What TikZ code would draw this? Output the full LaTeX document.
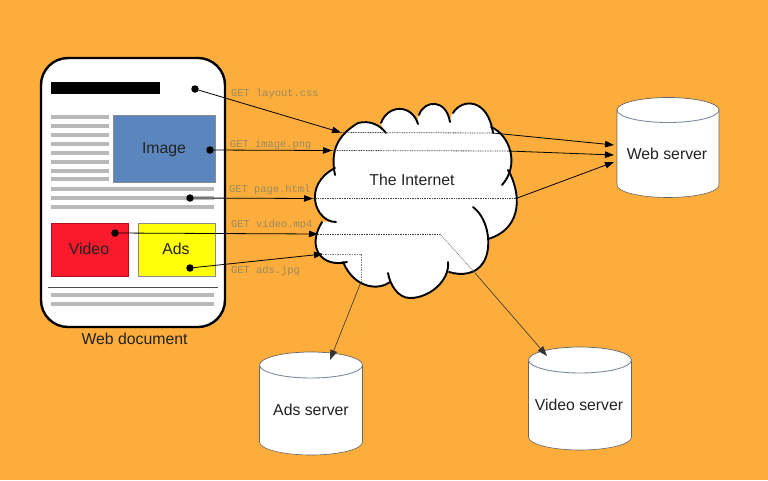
\documentclass[tikz,border=0pt]{standalone}
\usepackage{fontspec}
\setmainfont{Liberation Sans}
\newfontfamily\getfont{Liberation Mono}
\usetikzlibrary{arrows.meta}
\definecolor{bgorange}{HTML}{FCAD3B}
\definecolor{greybar}{HTML}{B9B9B9}
\definecolor{imgblue}{HTML}{5B86BD}
\definecolor{vidred}{HTML}{F91A2C}
\definecolor{adyellow}{HTML}{FFFF0A}
\definecolor{getgrey}{HTML}{9A8A5E}
\definecolor{cylrim}{HTML}{7F8A9E}
\definecolor{txt}{HTML}{222222}
\newcommand\alllobes[1]{
  #1 (335,175) .. controls (330,150) and (338,135) .. (358,123) .. controls (370,120) and (380,125) .. (386,133);
  #1 (381,123) .. controls (388,104) and (412,104) .. (418,124);
  #1 (419,115) .. controls (424,100) and (446,98) .. (450,122);
  #1 (453,113) .. controls (462,98) and (488,98) .. (493,133);
  #1 (491,127) .. controls (510,135) and (520,165) .. (502,185);
  #1 (508,170) .. controls (520,190) and (525,228) .. (488,239);
  #1 (473,207) .. controls (490,220) and (492,250) .. (483,263) .. controls (476,274) and (462,276) .. (449,272);
  #1 (448,262) .. controls (450,280) and (430,298) .. (410,298) .. controls (398,298) and (390,285) .. (388,273);
  #1 (390,282) .. controls (380,290) and (355,290) .. (343,262);
  #1 (347,262) .. controls (322,268) and (306,248) .. (322,222);
  #1 (336,222) .. controls (315,222) and (302,185) .. (335,168);
}
\tikzset{
  lbl/.style={font=\fontsize{15.8}{18}\selectfont,text=txt,inner sep=0pt},
  getlbl/.style={font=\getfont\fontsize{10.4}{12}\selectfont,text=getgrey,anchor=west,inner sep=0pt},
  dot/.style={circle,fill=black,inner sep=0pt,minimum size=7.5pt},
  greyln/.style={fill=greybar,draw=none},
  conn/.style={-{Triangle[length=9pt,width=6.5pt]},line width=.8pt,black},
  thinconn/.style={-{Triangle[length=10pt,width=7pt]},line width=.6pt,black!80},
  inside/.style={dash pattern=on .9pt off .8pt,line width=.8pt,black!75},
  insidegrey/.style={dash pattern=on .9pt off .8pt,line width=.8pt,black!50},
  cloudln/.style={line width=1.9pt,black,line cap=round},
  cloudfill/.style={fill=white,draw=white,line width=1pt},
  block/.style={draw=black!45,line width=.5pt},
  pics/dbcyl/.style n args={3}{code={
    \fill[white] (-#1,0) arc[start angle=180,end angle=360,x radius=#1,y radius=#2]
       -- (#1,#3) arc[start angle=0,end angle=180,x radius=#1,y radius=#2] -- cycle;
    \draw[line width=.6pt,black!60] (-#1,0) -- (-#1,#3) arc[start angle=180,end angle=0,x radius=#1,y radius=#2] -- (#1,0);
    \draw[line width=.7pt,black!60] (-#1,0) arc[start angle=180,end angle=360,x radius=#1,y radius=#2];
    \draw[line width=.9pt,cylrim] (-#1,0) arc[start angle=180,end angle=0,x radius=#1,y radius=#2];
  }}
}
\begin{document}
\begin{tikzpicture}[x=1pt,y=-1pt]
\fill[bgorange] (0,0) rectangle (768,480);
\useasboundingbox (0,0) rectangle (768,480);

% web document
\draw[fill=white,line width=2.4pt,rounded corners=27pt] (41,58) rectangle (225,327);
\fill[black] (51,82) rectangle (160,94);
\foreach \yy in {117,126,135,144,153,162,171,179}
  \fill[greyln] (51,\yy-2.3) rectangle (109,\yy+2.3);
\foreach \yy in {189,198,207,295,304}
  \fill[greyln] (51,\yy-2.3) rectangle (214,\yy+2.3);
\draw[line width=.7pt,black!70] (48,287) -- (218,287);
\node[block,fill=imgblue,minimum width=102pt,minimum height=67pt,inner sep=0pt] (img) at (164,148.5) {};
\node[block,draw=vidred!70!black,fill=vidred,minimum width=77pt,minimum height=53pt,inner sep=0pt] (vid) at (89.5,249.5) {};
\node[block,fill=adyellow,minimum width=77pt,minimum height=53pt,inner sep=0pt] (ad) at (176.5,249.5) {};
\node[lbl] (imgt) at (164,149.5) {Image};
\node[lbl] (vidt) at (89,249) {Video};
\node[lbl] (adt) at (176,249) {Ads};
\node[lbl] (doct) at (134.5,339) {Web document};

% cloud
\alllobes{\path[cloudfill]}
\path[cloudfill] (335,175) -- (386,133) -- (381,123) -- (418,124) -- (419,115) -- (450,122) -- (453,113) -- (493,133) -- (491,127) -- (502,185) -- (508,170) -- (488,239) -- (483,263) -- (449,272) -- (448,262) -- (388,273) -- (390,282) -- (343,262) -- (347,262) -- (322,222) -- (336,222) -- (335,168) -- cycle;
\alllobes{\draw[cloudln]}
\node[lbl] (inet) at (412,180) {The Internet};

% servers
\pic at (668,110) {dbcyl={51}{12.5}{75}};
\pic at (311,365) {dbcyl={51.5}{13}{77}};
\pic at (580,360) {dbcyl={51.5}{13}{77}};
\node[lbl] (webt) at (667,153.5) {Web server};
\node[lbl] (adst) at (311,409.5) {Ads server};
\node[lbl] (vidst) at (579,404.5) {Video server};

% connector points
\node[dot] (dlayout) at (195,89) {};
\node[dot] (dimage) at (210,150) {};
\node[dot] (dpage) at (190,198) {};
\node[dot] (dvideo) at (115,233) {};
\node[dot] (dads) at (190,268) {};
\coordinate (clayout) at (341,132.5);
\coordinate (cimage) at (332,150.5);
\coordinate (cpage) at (313,198.5);
\coordinate (cvideo) at (318,234);
\coordinate (cads) at (323,254);
\coordinate (olayout) at (493,133);
\coordinate (oimage) at (508,151);
\coordinate (opage) at (516,198.5);
\coordinate (bvideo) at (440,234);
\coordinate (ovideo) at (475,273);
\coordinate (bads) at (361,254);
\coordinate (oads) at (361,282);
\coordinate (wa) at (614,145);
\coordinate (wb) at (614,155);
\coordinate (wc) at (614,162);
\coordinate (vs) at (547,356);
\coordinate (as) at (330,360);

\draw[conn] (dlayout) -- (clayout);
\draw[conn] (dimage) -- (cimage);
\draw[conn] (dpage) -- (cpage);
\draw[conn] (dvideo) -- (cvideo);
\draw[conn] (dads) -- (cads);
\draw[inside] (clayout) -- (olayout);
\draw[inside] (cimage) -- (oimage);
\draw[inside] (cpage) -- (opage);
\draw[inside] (cvideo) -- (bvideo);
\draw[insidegrey] (bvideo) -- (ovideo);
\draw[insidegrey] (cads) -- (bads) -- (oads);
\draw[conn] (olayout) -- (wa);
\draw[conn] (oimage) -- (wb);
\draw[conn] (opage) -- (wc);
\draw[thinconn] (ovideo) -- (vs);
\draw[thinconn] (oads) -- (as);

% request labels
\node[getlbl] (g1) at (231,94) {GET layout.css};
\node[getlbl] (g2) at (230,145) {GET image.png};
\node[getlbl] (g3) at (229,190) {GET page.html};
\node[getlbl] (g4) at (231,225) {GET video.mp4};
\node[getlbl] (g5) at (231,271) {GET ads.jpg};
\end{tikzpicture}
\end{document}
